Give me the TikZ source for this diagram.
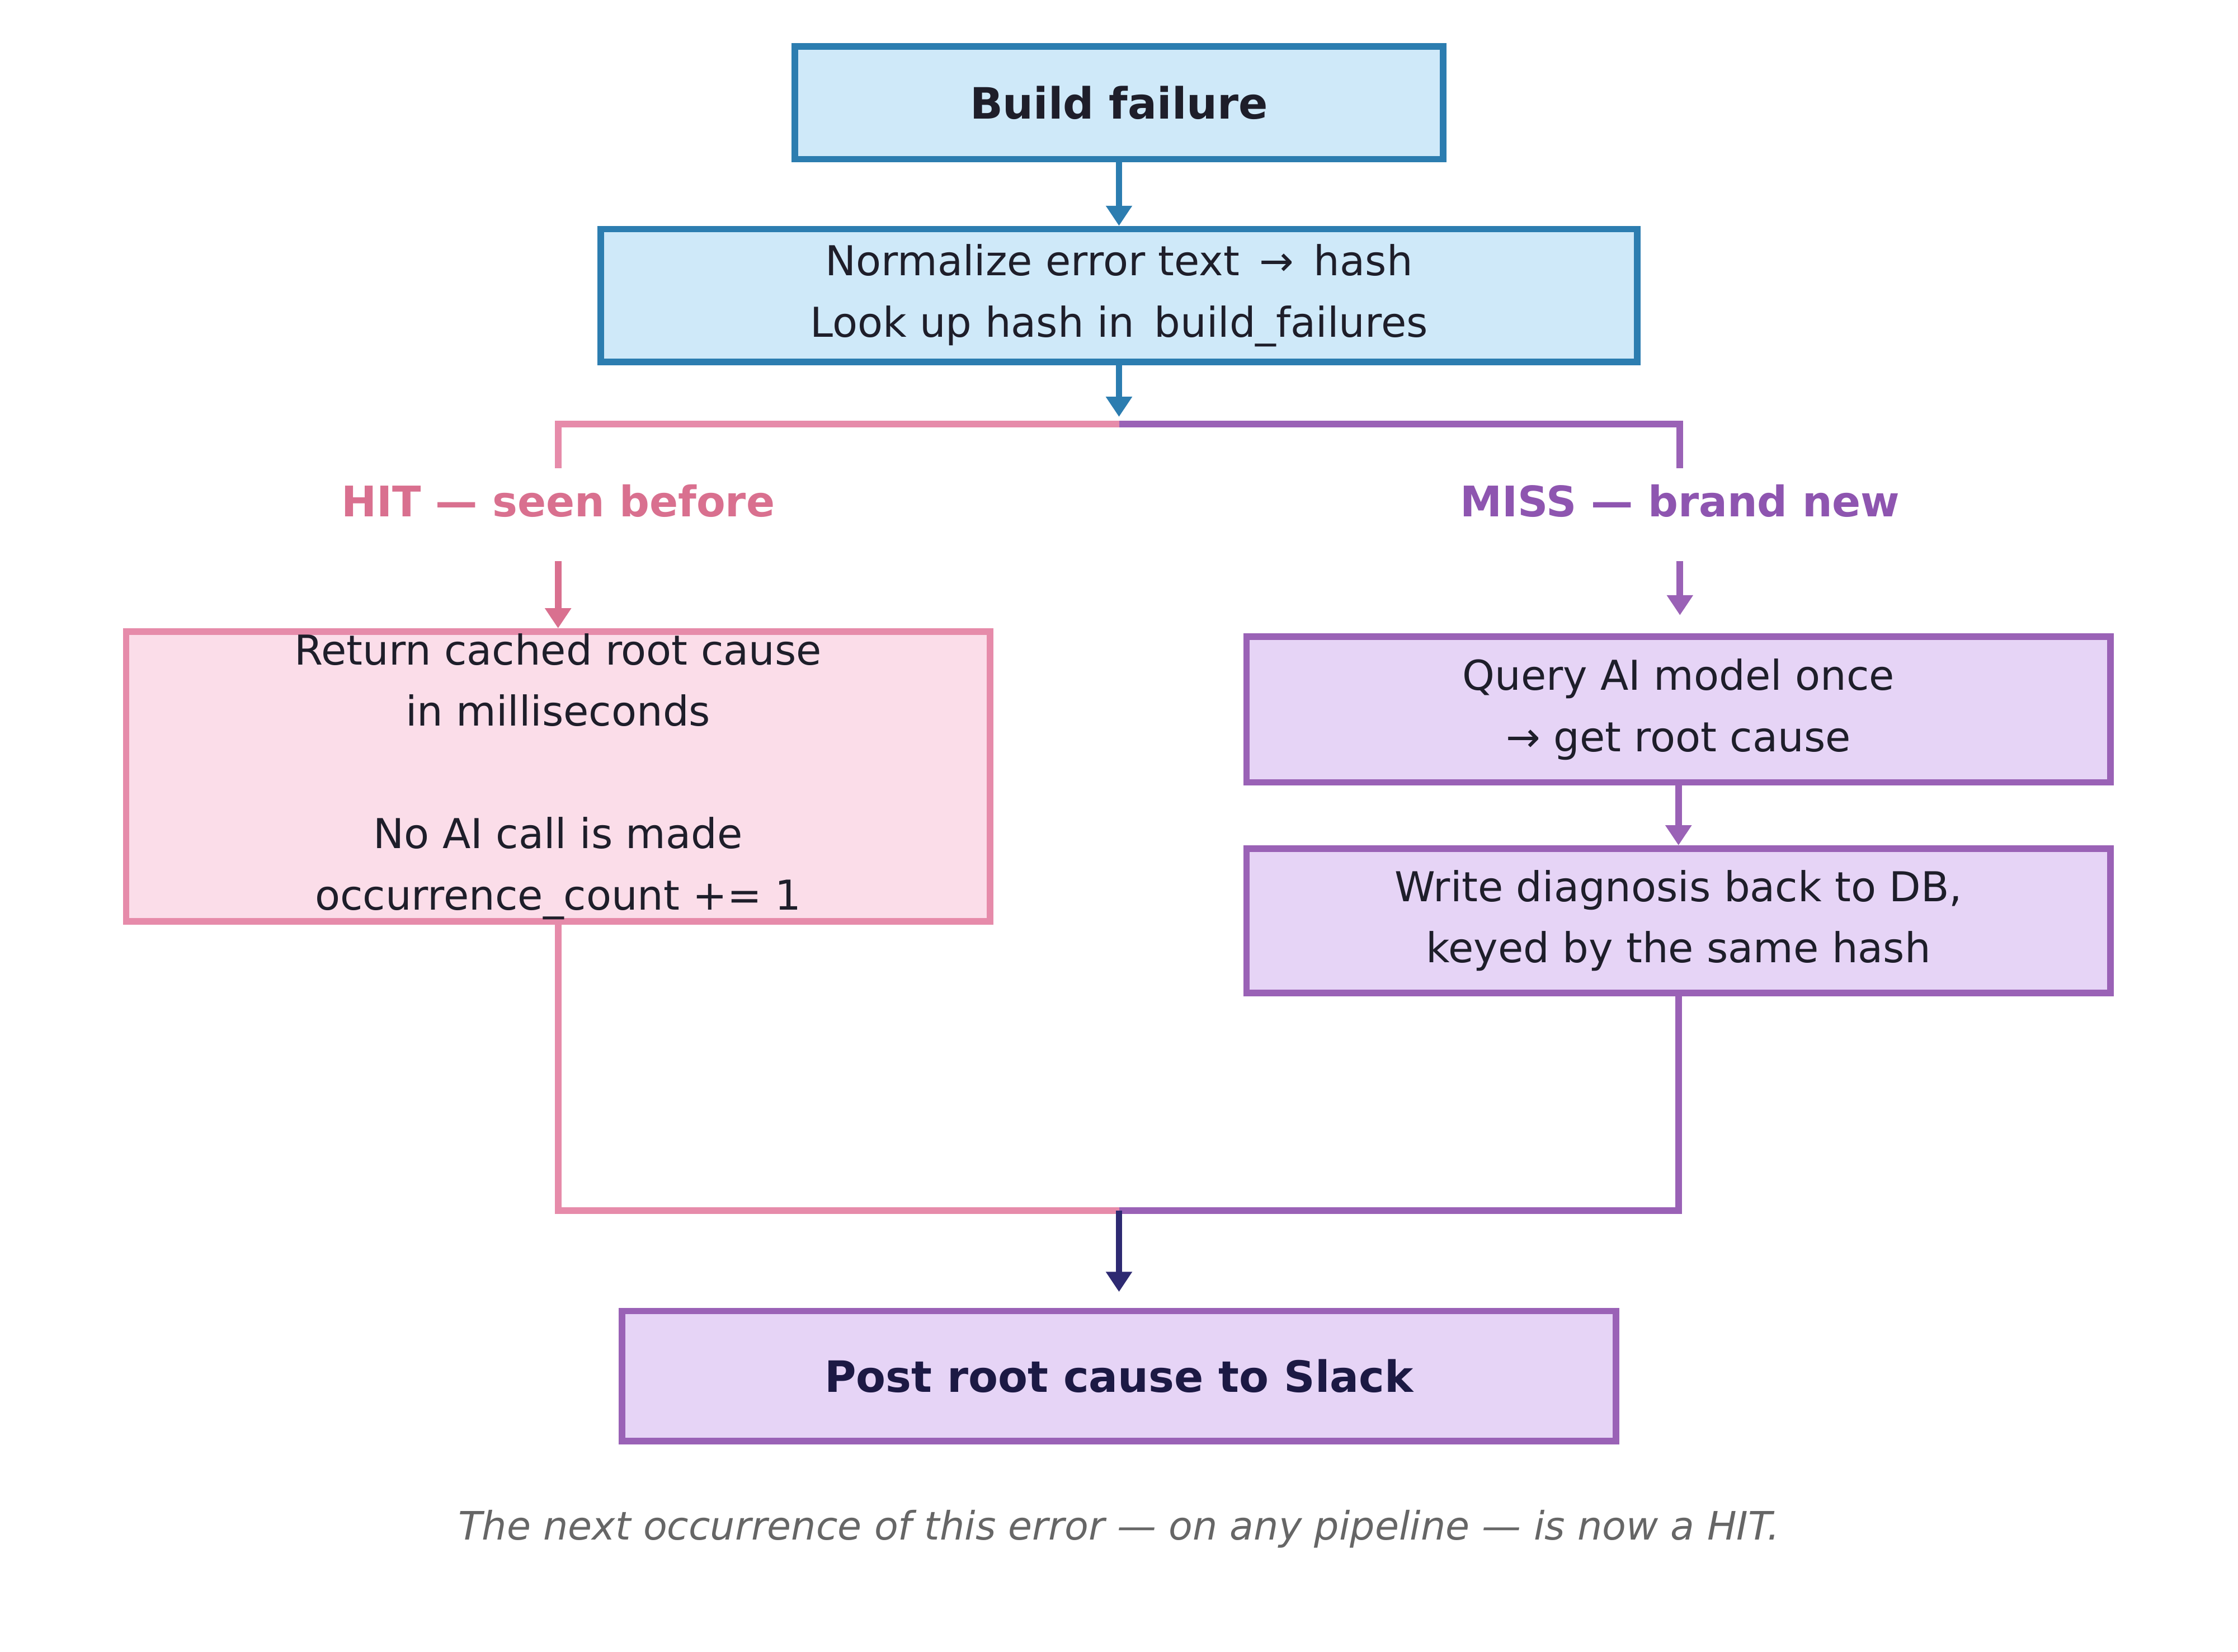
\documentclass[tikz,border=0pt]{standalone}
\usepackage{fontspec}
\setmainfont{DejaVu Sans}
\usetikzlibrary{arrows.meta}
\definecolor{blueline}{HTML}{2C7DB0}
\definecolor{bluefill}{HTML}{CFE9F9}
\definecolor{pinkline}{HTML}{E68BAA}
\definecolor{pinkfill}{HTML}{FBDDE9}
\definecolor{purpline}{HTML}{9A62B6}
\definecolor{purpfill}{HTML}{E6D4F6}
\definecolor{hittext}{HTML}{D9708F}
\definecolor{misstext}{HTML}{8E55B0}
\definecolor{navy}{HTML}{2E2A72}
\definecolor{inktext}{HTML}{1E1E2A}
\tikzset{
  box/.style={draw, line width=1.3pt, align=center, inner sep=0pt, text=inktext,
    font=\fontsize{8.2}{12.2}\selectfont},
  bluebox/.style={box, draw=blueline, fill=bluefill},
  pinkbox/.style={box, draw=pinkline, fill=pinkfill},
  purpbox/.style={box, draw=purpline, fill=purpfill},
  flow/.style={line width=1.3pt},
  tip/.style={-{Triangle[width=5pt,length=4pt]}}
}
\begin{document}
\begin{tikzpicture}[x=0.01cm,y=-0.01cm]
  \useasboundingbox[fill=white] (0,0) rectangle (1568,1157);
  % boxes
  \node[bluebox, minimum width=4.54cm, minimum height=0.79cm, font=\fontsize{8.6}{12}\selectfont\bfseries] (fail) at (784,72) {Build failure};
  \node[bluebox, minimum width=7.26cm, minimum height=0.93cm] (hash) at (784,207) {Normalize error text \,→\, hash\\Look up hash in \,build\_failures};
  \node[pinkbox, minimum width=6.05cm, minimum height=2.03cm] (cache) at (391,544) {Return cached root cause\\in milliseconds\\[12.2pt]No AI call is made\\occurrence\_count += 1};
  \node[purpbox, minimum width=6.05cm, minimum height=1.02cm] (query) at (1176,497) {Query AI model once\\→ get root cause};
  \node[purpbox, minimum width=6.05cm, minimum height=1.01cm] (write) at (1176,645) {Write diagnosis back to DB,\\keyed by the same hash};
  \node[purpbox, minimum width=6.96cm, minimum height=0.91cm, text=navy!60!black, font=\fontsize{8.6}{12}\selectfont\bfseries] (slack) at (784,964) {Post root cause to Slack};
  % labels
  \node[text=hittext, font=\fontsize{8.4}{12}\selectfont\bfseries] (hit) at (391,351) {HIT — seen before};
  \node[text=misstext, font=\fontsize{8.4}{12}\selectfont\bfseries] (miss) at (1177,351) {MISS — brand new};
  \node[text=black!60, font=\fontsize{7.8}{12}\selectfont\itshape] (note) at (784,1071) {The next occurrence of this error — on any pipeline — is now a HIT.};
  % split
  \coordinate (split) at (784,297);
  \coordinate (merge) at (784,848);
  \draw[flow, tip, blueline] (fail) -- (hash);
  \draw[flow, tip, blueline] (hash) -- (784,292);
  \draw[flow, pinkline] (split) -- (391,297) -- (391,328);
  \draw[flow, purpline] (split) -- (1177,297) -- (1177,328);
  \draw[flow, tip, hittext] (391,393) -- (cache.north);
  \draw[flow, tip, purpline] (1177,393) -- (1177,431);
  \draw[flow, tip, purpline] (query) -- (write);
  % merge
  \draw[flow, pinkline] (cache.south) |- (merge);
  \draw[flow, purpline] (write.south) |- (merge);
  \draw[flow, tip, navy] (merge) -- (784,905);
\end{tikzpicture}
\end{document}
